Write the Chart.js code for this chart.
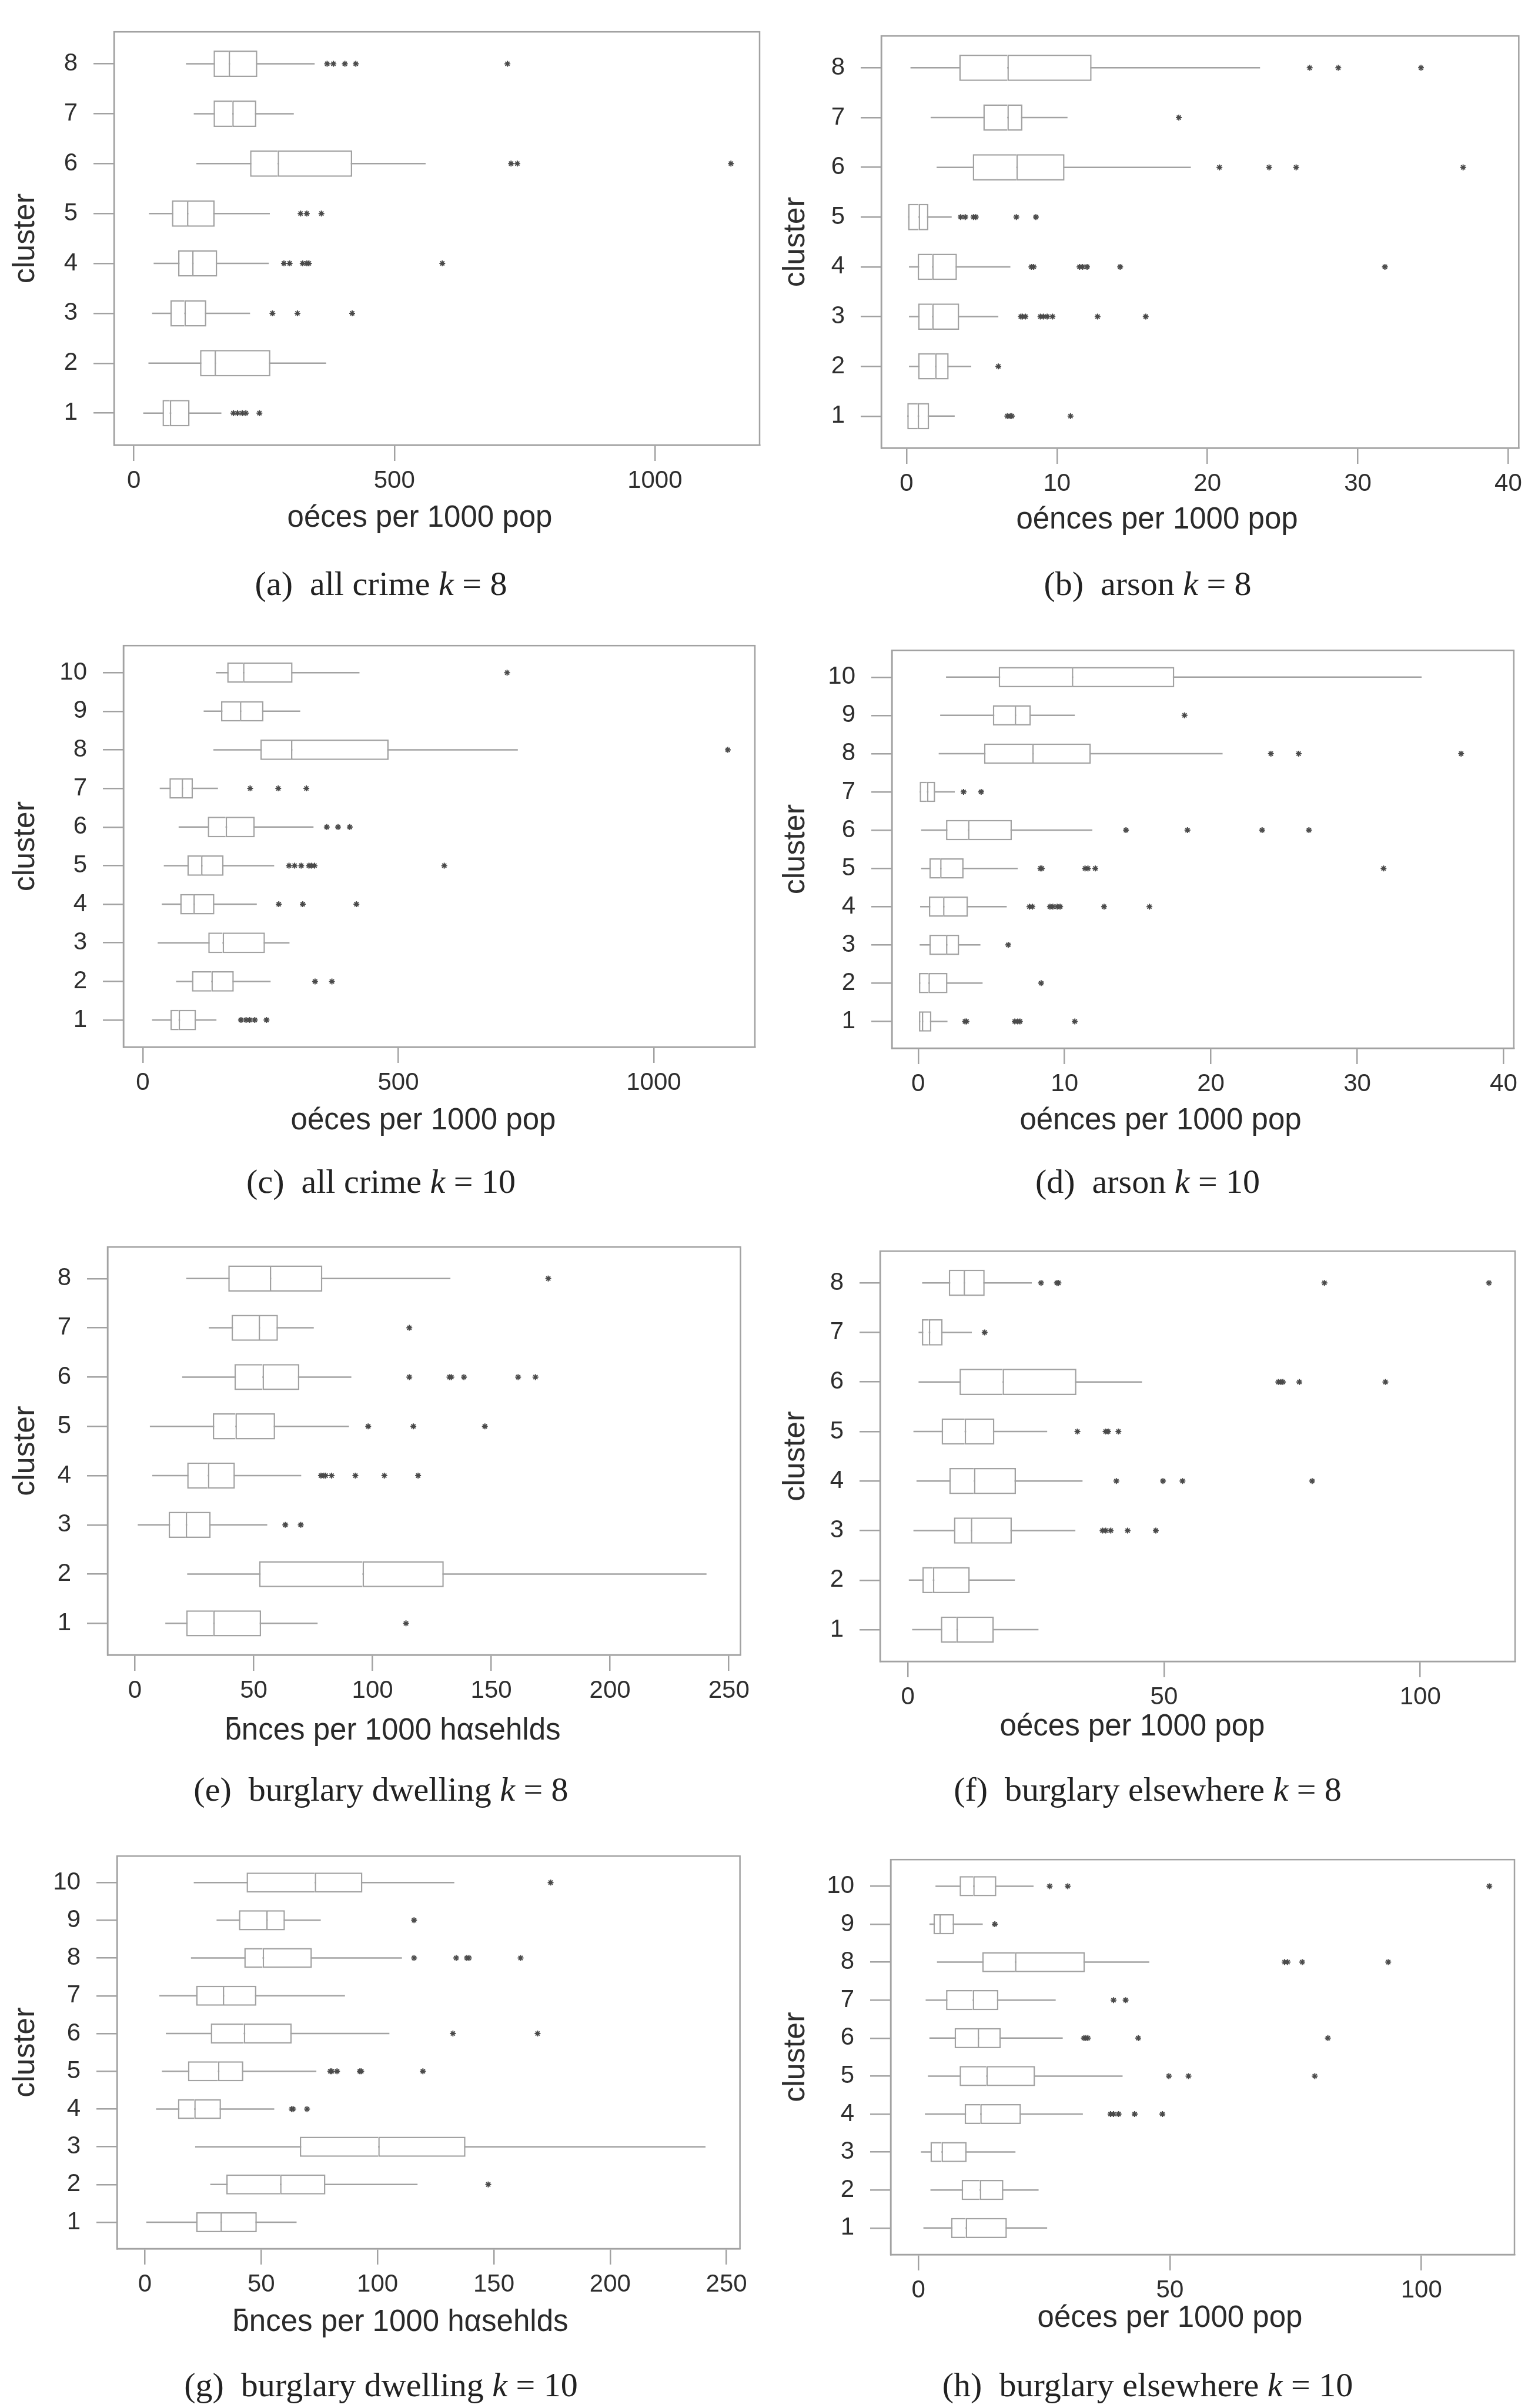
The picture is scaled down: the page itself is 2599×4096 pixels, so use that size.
<!DOCTYPE html>
<html>
<head>
<meta charset="utf-8">
<script src="https://cdn.jsdelivr.net/npm/chart.js@4.4.1/dist/chart.umd.min.js"></script>
<style>
body { margin: 0; background: #fff; width: 2599px; height: 4096px; position: relative; overflow: hidden; }
canvas { position: absolute; }
.cap { position: absolute; font-family: "Liberation Serif", "Times New Roman", serif; font-size: 58px; color: #222;
       white-space: nowrap; transform: translate(-50%, -50%); line-height: 1; }
.xt { position: absolute; font-family: "Liberation Sans", Arial, sans-serif; font-size: 51px; color: #2a2a2a;
      white-space: nowrap; transform: translate(-50%, -50%); line-height: 1; }
</style>
</head>
<body>
<script>
// clusters (y categories)
const clusters8 = [1, 2, 3, 4, 5, 6, 7, 8];
const clusters10 = [1, 2, 3, 4, 5, 6, 7, 8, 9, 10];

// (a) all crime k = 8   -- whisker low, Q1, median, Q3, whisker high, outliers (cluster 1 first)
const aLo  = [18, 28, 35, 38, 29, 120, 115, 100];
const aQ1  = [55, 127, 70, 85, 73, 223, 153, 153];
const aMed = [69, 155, 97, 112, 102, 276, 189, 182];
const aQ3  = [107, 262, 139, 160, 155, 419, 235, 237];
const aHi  = [168, 369, 223, 259, 261, 560, 307, 347];
const aOut = [[191, 199, 208, 215, 241], [], [266, 314, 419], [288, 299, 324, 332, 336, 592],
              [320, 332, 360], [724, 736, 1146], [], [371, 383, 405, 426, 717]];

// (b) arson k = 8
const bLo  = [0, 0.16, 0.16, 0.16, 0.1, 2.0, 1.6, 0.26];
const bQ1  = [0, 0.77, 0.77, 0.74, 0.1, 4.4, 5.1, 3.5];
const bMed = [0.74, 1.9, 1.7, 1.7, 0.8, 7.3, 6.7, 6.7];
const bQ3  = [1.5, 2.8, 3.5, 3.35, 1.45, 10.5, 7.7, 12.3];
const bHi  = [3.2, 4.3, 6.1, 6.9, 3.0, 18.9, 10.7, 23.5];
const bOut = [[6.7, 6.9, 7.0, 10.9], [6.1], [7.6, 7.7, 7.9, 8.9, 9.1, 9.35, 9.7, 12.7, 15.9],
              [8.3, 8.45, 11.5, 11.7, 12.0, 14.2, 31.8], [3.6, 3.9, 4.45, 4.6, 7.3, 8.6],
              [20.8, 24.1, 25.9, 37.0], [18.1], [26.8, 28.7, 34.2]];

// (c) all crime k = 10
const cLo  = [18, 65, 29, 37, 41, 70, 33, 138, 119, 143];
const cQ1  = [54, 96, 128, 73, 87, 127, 52, 230, 153, 165];
const cMed = [70, 134, 156, 99, 114, 162, 76, 290, 190, 196];
const cQ3  = [104, 178, 239, 140, 158, 219, 98, 481, 236, 293];
const cHi  = [144, 250, 287, 223, 257, 334, 147, 734, 308, 424];
const cOut = [[192, 202, 209, 219, 242], [337, 370], [], [266, 313, 418],
              [286, 297, 310, 325, 330, 336, 590], [360, 382, 405], [210, 265, 320], [1145], [], [713]];

// (d) arson k = 10
const dLo  = [0, 0, 0.1, 0.13, 0.2, 0.2, 0.1, 1.4, 1.5, 1.9];
const dQ1  = [0, 0, 0.76, 0.73, 0.76, 1.9, 0.1, 4.5, 5.1, 5.5];
const dMed = [0.25, 0.7, 1.9, 1.7, 1.5, 3.4, 0.6, 7.8, 6.6, 10.5];
const dQ3  = [0.9, 2.0, 2.8, 3.4, 3.1, 6.4, 1.16, 11.8, 7.7, 17.5];
const dHi  = [2.0, 4.4, 4.25, 6.05, 6.8, 11.9, 2.5, 20.8, 10.7, 34.4];
const dOut = [[3.2, 3.3, 6.6, 6.8, 6.95, 10.7], [8.4], [6.15], [7.6, 7.8, 9.0, 9.2, 9.5, 9.7, 12.7, 15.8],
              [8.35, 8.45, 11.4, 11.6, 12.1, 31.8], [14.2, 18.4, 23.5, 26.7], [3.1, 4.3],
              [24.1, 26.0, 37.1], [18.2], []];

// (e) burglary dwelling k = 8
const eLo  = [12.8, 22, 1.2, 7.3, 6.3, 19.9, 31.1, 21.6];
const eQ1  = [21.6, 52.3, 14.2, 22, 32.8, 41.9, 40.7, 39.3];
const eMed = [33, 95.8, 21.4, 30.7, 42.3, 53.7, 52.1, 56.8];
const eQ3  = [53.1, 130, 31.9, 42.1, 59, 69.2, 60.2, 78.9];
const eHi  = [76.9, 240.6, 55.7, 70, 90.1, 91.1, 75.3, 132.8];
const eOut = [[114.1], [], [63.3, 69.8], [78.3, 79.5, 80.3, 82.8, 92.8, 105, 119.2],
              [98.2, 117.2, 147.3], [115.5, 132.4, 133.2, 138.5, 161.3, 168.6], [115.5], [174]];

// (f) burglary elsewhere k = 8
const fLo  = [0.85, 0.2, 1.1, 1.7, 1.1, 2.1, 2.1, 2.8];
const fQ1  = [6.45, 2.85, 9.0, 8.1, 6.6, 10.1, 2.75, 8.0];
const fMed = [9.5, 4.9, 12.3, 12.9, 11.1, 18.5, 4.1, 10.9];
const fQ3  = [16.8, 12.1, 20.3, 21.1, 16.9, 32.9, 6.8, 15.0];
const fHi  = [25.5, 20.9, 32.7, 34.1, 27.2, 45.7, 12.5, 24.2];
const fOut = [[], [], [38.0, 38.6, 39.6, 42.9, 48.4], [40.7, 49.8, 53.6, 78.9], [33.1, 38.6, 39.1, 41.1],
              [72.3, 72.8, 73.2, 76.4, 93.2], [15.0], [26.0, 29.1, 29.4, 81.3, 113.4]];

// (g) burglary dwelling k = 10
const gLo  = [0.6, 28.1, 21.6, 4.8, 7.3, 9, 6.2, 19.8, 30.8, 21];
const gQ1  = [22, 35, 66.6, 14.2, 18.5, 28.3, 22, 42.7, 40.4, 43.7];
const gMed = [32.5, 58.1, 100.3, 21.2, 31.4, 42.5, 33.5, 50.6, 52.2, 73];
const gQ3  = [48.1, 77.6, 137.8, 32.7, 42.3, 63.1, 47.9, 71.8, 60.2, 93.5];
const gHi  = [65.2, 117.2, 241, 55.6, 73.7, 105.1, 86, 110.5, 75.6, 133];
const gOut = [[], [147.6], [], [63.1, 63.7, 69.7], [79.7, 80.3, 82.6, 92.4, 93, 119.5], [132.4, 168.8], [],
              [115.7, 133.8, 138.4, 139.3, 161.5], [115.7], [174.4]];

// (h) burglary elsewhere k = 10
const hLo  = [1.0, 2.4, 0.5, 1.3, 1.9, 2.2, 1.45, 3.7, 2.2, 3.4];
const hQ1  = [6.5, 8.6, 2.4, 9.2, 8.2, 7.2, 5.5, 12.7, 3.0, 8.2];
const hMed = [9.4, 12.2, 4.6, 12.3, 13.5, 11.8, 10.8, 19.2, 4.2, 10.9];
const hQ3  = [17.6, 16.9, 9.6, 20.4, 23.2, 16.4, 15.9, 33.1, 7.1, 15.5];
const hHi  = [25.6, 23.9, 19.3, 32.7, 40.6, 28.7, 27.3, 45.9, 12.8, 22.9];
const hOut = [[], [], [], [38.2, 38.8, 39.8, 43, 48.5], [49.8, 53.7, 78.8], [32.9, 33.3, 33.7, 43.7, 81.4],
              [38.8, 41.2], [72.8, 73.4, 76.3, 93.4], [15.2], [26.1, 29.7, 113.5]];

// x tick labels
const ticksAll = [0, 500, 1000];
const ticksArson = [0, 10, 20, 30, 40];
const ticksDwelling = [0, 50, 100, 150, 200, 250];
const ticksElse = [0, 50, 100];

const popTitle = 'oéces per 1000 pop';
const arsonTitle = 'oénces per 1000 pop';
const hhTitle = 'ƃnces per 1000 hαsehlds';

// layout: plot frame [left, top, right, bottom], x range, title and caption centres
const panels = [
  { cl: clusters8, lo: aLo, q1: aQ1, med: aMed, q3: aQ3, hi: aHi, out: aOut, xt: ticksAll, xr: [-38, 1201],
    frame: [194, 22, 1292, 757], col: 0, title: popTitle, tpos: [714, 878], cap: '(a)&ensp;all crime <i>k</i> = 8', cpos: [648, 993] },
  { cl: clusters8, lo: bLo, q1: bQ1, med: bMed, q3: bQ3, hi: bHi, out: bOut, xt: ticksArson, xr: [-1.68, 40.7],
    frame: [1499, 29, 2584, 762], col: 1, title: arsonTitle, tpos: [1968, 881], cap: '(b)&ensp;arson <i>k</i> = 8', cpos: [1952, 993] },
  { cl: clusters10, lo: cLo, q1: cQ1, med: cMed, q3: cQ3, hi: cHi, out: cOut, xt: ticksAll, xr: [-38, 1198],
    frame: [210, 1066, 1284, 1781], col: 0, title: popTitle, tpos: [720, 1903], cap: '(c)&ensp;all crime <i>k</i> = 10', cpos: [648, 2010] },
  { cl: clusters10, lo: dLo, q1: dQ1, med: dMed, q3: dQ3, hi: dHi, out: dOut, xt: ticksArson, xr: [-1.8, 40.7],
    frame: [1517, 1074, 2576, 1783], col: 1, title: arsonTitle, tpos: [1974, 1903], cap: '(d)&ensp;arson <i>k</i> = 10', cpos: [1952, 2010] },
  { cl: clusters8, lo: eLo, q1: eQ1, med: eMed, q3: eQ3, hi: eHi, out: eOut, xt: ticksDwelling, xr: [-11.5, 254.9],
    frame: [183, 2089, 1270, 2815], col: 0, title: hhTitle, tpos: [668, 2941], cap: '(e)&ensp;burglary dwelling <i>k</i> = 8', cpos: [648, 3044] },
  { cl: clusters8, lo: fLo, q1: fQ1, med: fMed, q3: fQ3, hi: fHi, out: fOut, xt: ticksElse, xr: [-5.4, 118.5],
    frame: [1497, 2096, 2577, 2826], col: 1, title: popTitle, tpos: [1926, 2934], cap: '(f)&ensp;burglary elsewhere <i>k</i> = 8', cpos: [1952, 3044] },
  { cl: clusters10, lo: gLo, q1: gQ1, med: gMed, q3: gQ3, hi: gHi, out: gOut, xt: ticksDwelling, xr: [-12, 255.8],
    frame: [199, 3125, 1266, 3825], col: 0, title: hhTitle, tpos: [681, 3947], cap: '(g)&ensp;burglary dwelling <i>k</i> = 10', cpos: [648, 4057] },
  { cl: clusters10, lo: hLo, q1: hQ1, med: hMed, q3: hQ3, hi: hHi, out: hOut, xt: ticksElse, xr: [-5.5, 118.5],
    frame: [1515, 3131, 2576, 3835], col: 1, title: popTitle, tpos: [1990, 3940], cap: '(h)&ensp;burglary elsewhere <i>k</i> = 10', cpos: [1952, 4057] }
];

const LINE = '#a2a2a2';
const TEXT = '#2e2e2e';
const LW = 2.5;
const SANS = '"Liberation Sans", Arial, sans-serif';

const framePlugin = {
  id: 'frame',
  afterDraw(chart) {
    const a = chart.chartArea, ctx = chart.ctx;
    ctx.save();
    ctx.strokeStyle = LINE;
    ctx.lineWidth = LW;
    ctx.strokeRect(a.left, a.top, a.right - a.left, a.bottom - a.top);
    ctx.restore();
  }
};

function addText(cls, html, pos) {
  const d = document.createElement('div');
  d.className = cls;
  d.innerHTML = html;
  d.style.left = pos[0] + 'px';
  d.style.top = pos[1] + 'px';
  document.body.appendChild(d);
}

function drawPanel(p) {
  const left = p.col === 0 ? 0 : 1310;
  const top = p.frame[1] - 20;
  const cv = document.createElement('canvas');
  cv.width = p.frame[2] - left + 14;
  cv.height = p.frame[3] - top + 100;
  cv.style.left = left + 'px';
  cv.style.top = top + 'px';
  document.body.appendChild(cv);

  const k = p.cl.length;
  const pad = k === 8 ? 0.64 : 0.70;
  const boxOpts = { type: 'bar', backgroundColor: '#fff', borderColor: LINE, borderSkipped: false,
                    grouped: false, barPercentage: 0.53, categoryPercentage: 1, order: 2 };

  const whiskers = { type: 'bar', data: p.cl.map((c, i) => ({ x: [p.lo[i], p.hi[i]], y: c })),
                     backgroundColor: LINE, borderWidth: 0, grouped: false, maxBarThickness: LW, order: 3 };
  const lowerHalf = Object.assign({}, boxOpts, {
    data: p.cl.map((c, i) => ({ x: [p.q1[i], p.med[i]], y: c })),
    borderWidth: { left: LW, top: LW, bottom: LW, right: 0 } });
  const upperHalf = Object.assign({}, boxOpts, {
    data: p.cl.map((c, i) => ({ x: [p.med[i], p.q3[i]], y: c })),
    borderWidth: { left: LW, top: LW, bottom: LW, right: LW } });
  const outliers = { type: 'scatter', order: 0,
    data: p.cl.flatMap((c, i) => p.out[i].map(v => ({ x: v, y: c }))),
    pointStyle: 'star', radius: 5, borderColor: '#4a4a4a', borderWidth: 2, backgroundColor: '#4a4a4a' };

  new Chart(cv, {
    type: 'bar',
    data: { datasets: [whiskers, lowerHalf, upperHalf, outliers] },
    options: {
      indexAxis: 'y',
      responsive: false,
      animation: false,
      devicePixelRatio: 1,
      layout: { padding: { top: 20, right: 14, left: 0, bottom: 0 } },
      plugins: { legend: { display: false }, tooltip: { enabled: false } },
      scales: {
        x: {
          type: 'linear', min: p.xr[0], max: p.xr[1], offset: false,
          afterBuildTicks: s => { s.ticks = p.xt.map(v => ({ value: v })); },
          afterFit: s => { s.height = 100; },
          ticks: { font: { family: SANS, size: 42 }, color: TEXT, padding: 9, maxRotation: 0, autoSkip: false,
                   callback: v => String(v) },
          grid: { drawOnChartArea: false, tickLength: 27, color: LINE, lineWidth: LW, offset: false },
          border: { display: true, color: LINE, width: LW }
        },
        y: {
          type: 'linear', min: 1 - pad, max: k + pad, offset: false,
          afterBuildTicks: s => { s.ticks = p.cl.map(v => ({ value: v })); },
          afterFit: s => { s.width = p.frame[0] - left; },
          ticks: { font: { family: SANS, size: 42 }, color: TEXT, padding: 27, autoSkip: false,
                   callback: v => String(v) },
          grid: { drawOnChartArea: false, tickLength: 35, color: LINE, lineWidth: LW, offset: false },
          border: { display: true, color: LINE, width: LW },
          title: { display: true, text: 'cluster', color: TEXT, font: { family: SANS, size: 52 },
                   padding: { top: 12, bottom: 0 } }
        }
      }
    },
    plugins: [framePlugin]
  });

  addText('xt', p.title, p.tpos);
  addText('cap', p.cap, p.cpos);
}

panels.forEach(drawPanel);
</script>
</body>
</html>
